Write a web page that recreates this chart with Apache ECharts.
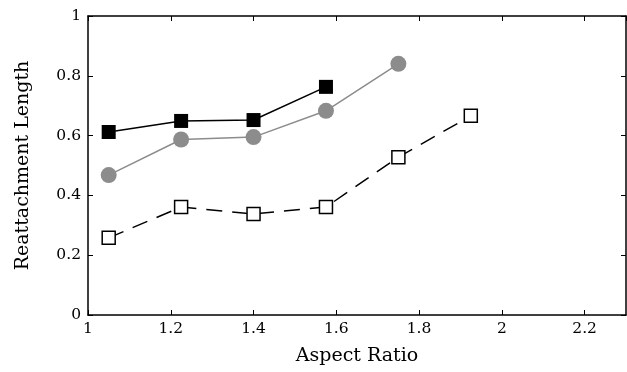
<!DOCTYPE html>
<html>
<head>
<meta charset="utf-8">
<script src="https://cdn.jsdelivr.net/npm/echarts@6/dist/echarts.min.js"></script>
<style>
  html, body { margin: 0; padding: 0; background: #fff; }
  #chart { width: 627px; height: 372px; }
</style>
</head>
<body>
<div id="chart"></div>
<script>
// aspect ratio values
const ratios = [1.05, 1.225, 1.4, 1.575, 1.75, 1.925];
// reattachment length for the three series
const filledSquare = [0.612, 0.649, 0.652, 0.763];
const grayCircle = [0.468, 0.587, 0.595, 0.683, 0.840];
const openSquare = [0.258, 0.361, 0.338, 0.361, 0.528, 0.666];

function pairs(vals) {
    return vals.map((v, i) => [ratios[i], v]);
}

let myChart = echarts.init(document.getElementById('chart'));
const font = 'DejaVu Serif';

let axisBase = {
    type: 'value',
    axisLine: { show: true, onZero: false, lineStyle: { color: '#000', width: 1.5 } },
    axisTick: { show: true, inside: true, length: 5, lineStyle: { color: '#000', width: 1 } },
    splitLine: { show: false }
};

let option = {
    animation: false,
    grid: {     //图的位置
        left: 88,
        right: 1,
        top: 16,
        bottom: 57
    },
    xAxis: [
        Object.assign({}, axisBase, {
            min: 1, max: 2.3, interval: 0.2,
            name: 'Aspect Ratio',
            nameLocation: 'middle',
            nameGap: 32,
            nameTextStyle: { fontFamily: font, fontSize: 19, color: '#000' },
            axisLabel: {
                color: '#000', fontFamily: font, fontSize: 15.5, margin: 6,
                showMaxLabel: false
            }
        }),
        Object.assign({}, axisBase, {
            min: 1, max: 2.3, interval: 0.2, position: 'top',
            axisLabel: { show: false }
        })
    ],
    yAxis: [
        Object.assign({}, axisBase, {
            min: 0, max: 1, interval: 0.2,
            name: 'Reattachment Length',
            nameLocation: 'middle',
            nameGap: 55,
            nameTextStyle: { fontFamily: font, fontSize: 19, color: '#000' },
            axisLabel: { color: '#000', fontFamily: font, fontSize: 15.5, margin: 7 }
        }),
        Object.assign({}, axisBase, {
            min: 0, max: 1, interval: 0.2, position: 'right',
            axisLabel: { show: false }
        })
    ],
    series: [
        {
            type: 'line',
            data: pairs(openSquare),
            symbol: 'rect',
            symbolSize: 13,
            itemStyle: { color: '#fff', borderColor: '#000', borderWidth: 1.5 },
            lineStyle: { color: '#000', width: 1.5, type: [16, 10] },
            z: 3
        },
        {
            type: 'line',
            data: pairs(grayCircle),
            symbol: 'circle',
            symbolSize: 16,
            itemStyle: { color: '#8c8c8c', borderWidth: 0 },
            lineStyle: { color: '#8c8c8c', width: 1.5 },
            z: 4
        },
        {
            type: 'line',
            data: pairs(filledSquare),
            symbol: 'rect',
            symbolSize: 14,
            itemStyle: { color: '#000' },
            lineStyle: { color: '#000', width: 1.5 },
            z: 5
        }
    ]
};

myChart.setOption(option);
</script>
</body>
</html>
